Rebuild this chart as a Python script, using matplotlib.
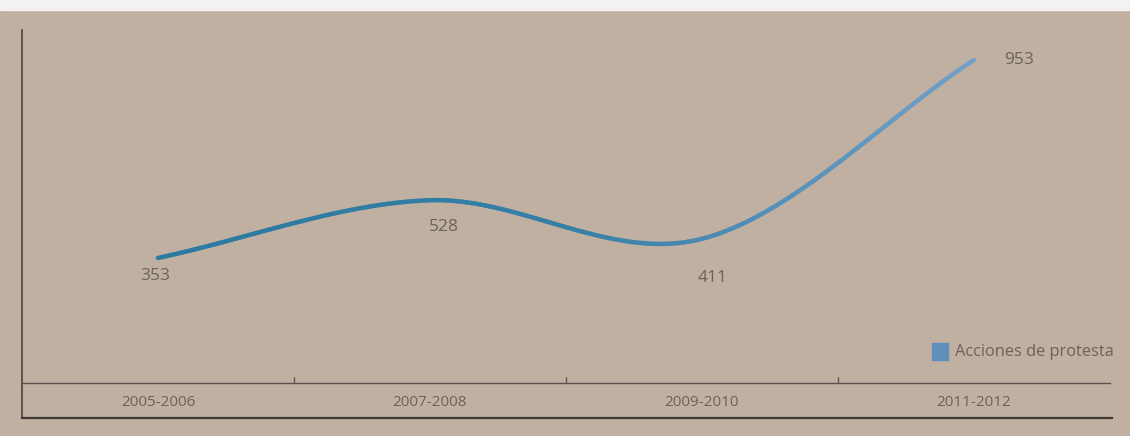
import numpy as np
import matplotlib.pyplot as plt
from matplotlib.collections import LineCollection
from matplotlib.colors import LinearSegmentedColormap
from matplotlib.patches import Rectangle

# datos
periodos = ['2005-2006', '2007-2008', '2009-2010', '2011-2012']
acciones = [353, 528, 411, 953]
etiqueta = 'Acciones de protesta'

fondo = '#bfb0a2'
gris = '#6b625c'
fuente = ['Open Sans', 'DejaVu Sans']

fig = plt.figure(figsize=(11.3, 4.36), dpi=100)
fig.patch.set_facecolor(fondo)
ax = fig.add_axes([0.0195, 0.1216, 0.9625, 0.8095])
ax.set_facecolor(fondo)

x = np.arange(len(acciones))
y = np.array(acciones, dtype=float)

# curva suave (catmull-rom) entre los puntos
ext_x = np.concatenate([[2 * x[0] - x[1]], x, [2 * x[-1] - x[-2]]])
ext_y = np.concatenate([[2 * y[0] - y[1]], y, [2 * y[-1] - y[-2]]])
xs, ys = [], []
for i in range(1, len(ext_x) - 2):
    t = np.linspace(0, 1, 60)
    for arr, out in ((ext_x, xs), (ext_y, ys)):
        p0, p1, p2, p3 = arr[i - 1], arr[i], arr[i + 1], arr[i + 2]
        out.extend(0.5 * ((2 * p1) + (-p0 + p2) * t
                          + (2 * p0 - 5 * p1 + 4 * p2 - p3) * t ** 2
                          + (-p0 + 3 * p1 - 3 * p2 + p3) * t ** 3))
xs, ys = np.array(xs), np.array(ys)
pts = np.column_stack([xs, ys]).reshape(-1, 1, 2)
segs = np.concatenate([pts[:-1], pts[1:]], axis=1)
cmap = LinearSegmentedColormap.from_list('azul', ['#2b7aa0', '#367fa6', '#72a0c8'])
lc = LineCollection(segs, cmap=cmap, linewidth=3.2, capstyle='round')
lc.set_array(xs[:-1])
lc.set_clim(0, 3)
ax.add_collection(lc)

# etiquetas de valores
desp = [(-2, -13), (10, -19), (8, -28), (33, 0)]
for xi, yi, (dx, dy) in zip(x, y, desp):
    ax.annotate(str(int(yi)), (xi, yi), xytext=(dx, dy), textcoords='offset points',
                ha='center', va='center', fontsize=12.5, color=gris, family=fuente)

ax.set_xlim(-0.5, 3.5)
ax.set_ylim(-26, 1044)
ax.set_xticks(x)
ax.set_xticklabels(periodos, fontsize=11, color=gris, family=fuente)
ax.tick_params(axis='x', which='major', length=0, pad=9)
ax.set_xticks([0.5, 1.5, 2.5], minor=True)
ax.tick_params(axis='x', which='minor', length=4, width=1, color='#5a524c', direction='in')
ax.set_yticks([])
for s in ['top', 'right']:
    ax.spines[s].set_visible(False)
ax.spines['bottom'].set_color('#5a524c')
ax.spines['bottom'].set_linewidth(1)
ax.spines['left'].set_visible(False)

# marco exterior: linea izquierda y linea inferior
fig.add_artist(plt.Line2D([0.0195, 0.0195], [0.041, 0.931], color='#4a423c', lw=1.2))
fig.add_artist(plt.Line2D([0.0195, 0.984], [0.041, 0.041], color='#3e3630', lw=1.6))

# leyenda
fig.add_artist(Rectangle((0.825, 0.175), 0.014, 0.038, color='#5f8fba', transform=fig.transFigure))
fig.text(0.845, 0.192, etiqueta, fontsize=11.8, color=gris, va='center', family=fuente)

# franja blanca superior
fig.add_artist(Rectangle((0, 0.978), 1, 0.022, color='#f4f2f0', transform=fig.transFigure))

fig.savefig('out.png', dpi=100, facecolor=fondo)
